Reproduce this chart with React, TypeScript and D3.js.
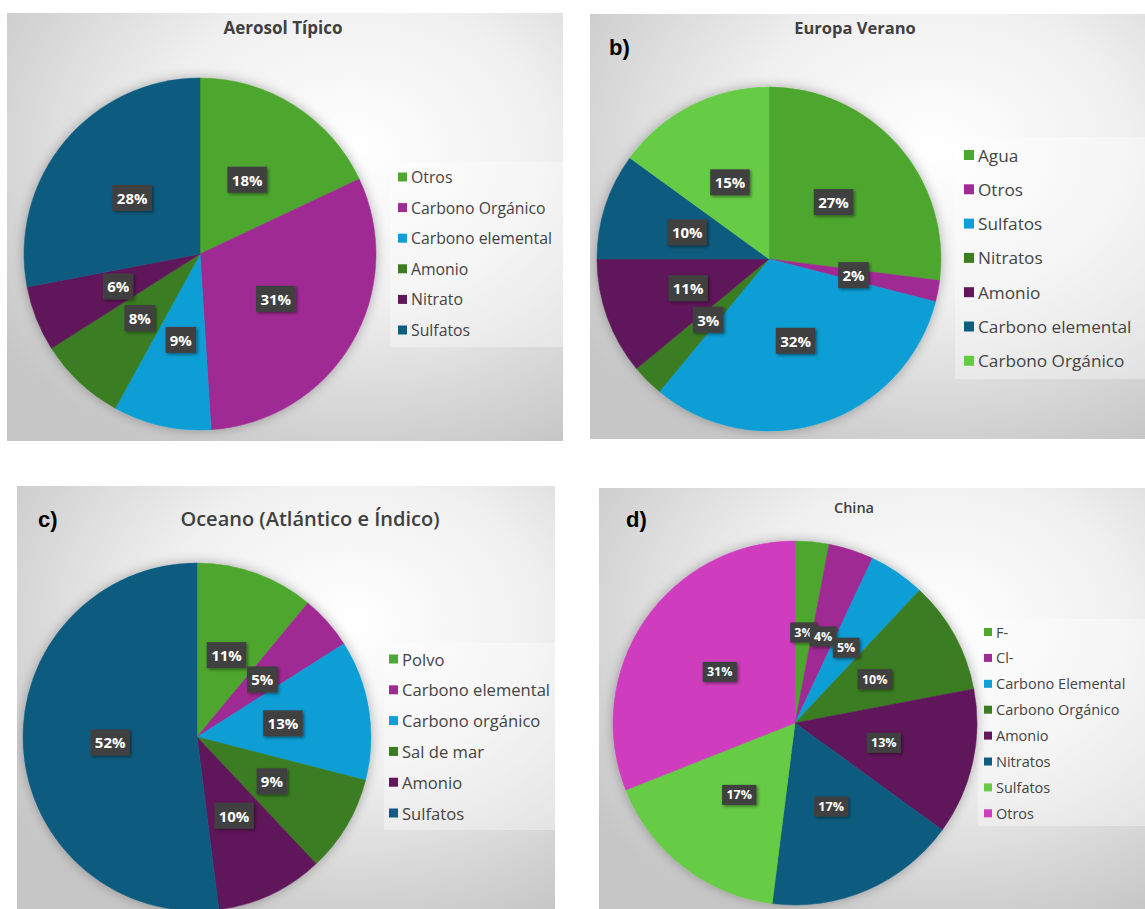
import React from 'react';
import * as d3 from 'd3';

// Shared slice palette (same order in every pie)
const sliceColors = ['#4ea72e', '#a02b93', '#0f9ed5', '#3b7d23', '#60185a', '#0e5c80', '#66cb44', '#cf3cbe'];

const aerosolCategories = ['Otros', 'Carbono Orgánico', 'Carbono elemental', 'Amonio', 'Nitrato', 'Sulfatos'];
const aerosolValues = [18, 31, 9, 8, 6, 28];

const europaCategories = ['Agua', 'Otros', 'Sulfatos', 'Nitratos', 'Amonio', 'Carbono elemental', 'Carbono Orgánico'];
const europaValues = [27, 2, 32, 3, 11, 10, 15];

const oceanoCategories = ['Polvo', 'Carbono elemental', 'Carbono orgánico', 'Sal de mar', 'Amonio', 'Sulfatos'];
const oceanoValues = [11, 5, 13, 9, 10, 52];

const chinaCategories = ['F-', 'Cl-', 'Carbono Elemental', 'Carbono Orgánico', 'Amonio', 'Nitratos', 'Sulfatos', 'Otros'];
const chinaValues = [3, 4, 5, 10, 13, 17, 17, 31];

const FONT = "'Open Sans', 'Noto Sans', sans-serif";

type PanelSpec = {
  id: string;
  title: string;
  tag?: string;
  categories: string[];
  values: number[];
  box: [number, number, number, number];
  titlePos: [number, number];
  titleSize: number;
  titleWeight: number;
  tagPos?: [number, number];
  pie: [number, number, number];
  labelSize: number;
  labelHeight: number;
  legendBox: [number, number, number, number];
  legendX: number;
  legendY: number;
  legendStep: number;
  legendSize: number;
  swatch: number;
};

const panels: PanelSpec[] = [
  {
    id: 'a', title: 'Aerosol Típico', categories: aerosolCategories, values: aerosolValues,
    box: [7, 13, 556, 428], titlePos: [283, 27], titleSize: 17, titleWeight: 700,
    pie: [200, 254, 176], labelSize: 15, labelHeight: 26,
    legendBox: [390, 162, 173, 185], legendX: 398, legendY: 177, legendStep: 30.6, legendSize: 15.8, swatch: 9,
  },
  {
    id: 'b', title: 'Europa Verano', tag: 'b)', categories: europaCategories, values: europaValues,
    box: [590, 14, 555, 425], titlePos: [855, 27], titleSize: 16.5, titleWeight: 700, tagPos: [609, 47],
    pie: [769, 259, 172], labelSize: 15, labelHeight: 26,
    legendBox: [955, 137, 190, 242], legendX: 964, legendY: 155, legendStep: 34.3, legendSize: 17.2, swatch: 10,
  },
  {
    id: 'c', title: 'Oceano (Atlántico e Índico)', tag: 'c)', categories: oceanoCategories, values: oceanoValues,
    box: [17, 486, 538, 423], titlePos: [310, 518], titleSize: 20, titleWeight: 600, tagPos: [38, 519],
    pie: [197, 737, 174], labelSize: 15, labelHeight: 26,
    legendBox: [384, 643, 171, 187], legendX: 389, legendY: 659, legendStep: 30.8, legendSize: 16.6, swatch: 9,
  },
  {
    id: 'd', title: 'China', tag: 'd)', categories: chinaCategories, values: chinaValues,
    box: [599, 488, 546, 421], titlePos: [854, 507], titleSize: 14.5, titleWeight: 600, tagPos: [626, 519],
    pie: [795, 723, 182], labelSize: 12.5, labelHeight: 20,
    legendBox: [978, 619, 167, 207], legendX: 984, legendY: 632, legendStep: 25.9, legendSize: 14.5, swatch: 8,
  },
];

function labelWidth(text: string, size: number) {
  let w = 0;
  for (const ch of text) w += ch === '%' ? 0.9 : 0.6;
  return w * size + 8;
}

function Panel({ p }: { p: PanelSpec }) {
  const [bx, by, bw, bh] = p.box;
  const [cx, cy, r] = p.pie;
  const pie = d3.pie<number>().sort(null).value((d) => d);
  const arcs = pie(p.values);
  const arc = d3.arc<d3.PieArcDatum<number>>().innerRadius(0).outerRadius(r);
  const color = d3.scaleOrdinal<number, string>().domain(d3.range(sliceColors.length)).range(sliceColors);
  const [lx, ly, lw, lh] = p.legendBox;

  return (
    <g>
      <defs>
        <clipPath id={`clip-${p.id}`}>
          <rect x={bx} y={by} width={bw} height={bh} />
        </clipPath>
        <radialGradient id={`bg-${p.id}`} cx="0.62" cy="0.32" r="0.78" fx="0.62" fy="0.32">
          <stop offset="0" stopColor="#ffffff" />
          <stop offset="0.45" stopColor="#f0f0f0" />
          <stop offset="1" stopColor="#c6c6c6" />
        </radialGradient>
      </defs>
      <g clipPath={`url(#clip-${p.id})`}>
        <rect x={bx} y={by} width={bw} height={bh} fill={`url(#bg-${p.id})`} />
        <rect x={lx} y={ly} width={lw} height={lh} fill="#ffffff" opacity={0.35} />
        <g transform={`translate(${cx},${cy})`} filter="url(#pieShadow)">
          {arcs.map((a, i) => (
            <path key={i} d={arc(a) || ''} fill={color(i)} stroke={color(i)} strokeWidth={0.5} />
          ))}
        </g>
        <g transform={`translate(${cx},${cy})`}>
          {arcs.map((a, i) => {
            const [x, y] = arc.centroid(a);
            const text = `${p.values[i]}%`;
            const w = labelWidth(text, p.labelSize);
            const h = p.labelHeight;
            return (
              <g key={i} transform={`translate(${x},${y})`}>
                <rect x={-w / 2} y={-h / 2} width={w} height={h} fill="#404040" filter="url(#labelShadow)" />
                <text
                  textAnchor="middle"
                  dominantBaseline="central"
                  fill="#ffffff"
                  fontFamily={FONT}
                  fontWeight={700}
                  fontSize={p.labelSize}
                >
                  {text}
                </text>
              </g>
            );
          })}
        </g>
        <g>
          {p.categories.map((c, i) => {
            const y = p.legendY + i * p.legendStep;
            return (
              <g key={c}>
                <rect x={p.legendX} y={y - p.swatch / 2} width={p.swatch} height={p.swatch} fill={color(i)} />
                <text
                  x={p.legendX + p.swatch + 4}
                  y={y}
                  dominantBaseline="central"
                  fill="#444444"
                  fontFamily={FONT}
                  fontSize={p.legendSize}
                >
                  {c}
                </text>
              </g>
            );
          })}
        </g>
        <text
          x={p.titlePos[0]}
          y={p.titlePos[1]}
          textAnchor="middle"
          dominantBaseline="central"
          fill="#404040"
          fontFamily={FONT}
          fontWeight={p.titleWeight}
          fontSize={p.titleSize}
        >
          {p.title}
        </text>
        {p.tag && p.tagPos && (
          <text
            x={p.tagPos[0]}
            y={p.tagPos[1]}
            dominantBaseline="central"
            fill="#000000"
            fontFamily="Arial, 'Liberation Sans', sans-serif"
            fontWeight={700}
            fontSize={22}
          >
            {p.tag}
          </text>
        )}
      </g>
    </g>
  );
}

export default function App() {
  return (
    <svg
      width={1145}
      height={909}
      viewBox="0 0 1145 909"
      style={{ position: 'absolute', left: 0, top: 0, background: '#ffffff' }}
    >
      <defs>
        <filter id="pieShadow" x="-20%" y="-20%" width="140%" height="140%">
          <feDropShadow dx="0" dy="0" stdDeviation="6" floodColor="#000000" floodOpacity="0.3" />
        </filter>
        <filter id="labelShadow" x="-30%" y="-30%" width="160%" height="160%">
          <feDropShadow dx="1.5" dy="1.5" stdDeviation="1.5" floodColor="#000000" floodOpacity="0.45" />
        </filter>
      </defs>
      {panels.map((p) => (
        <Panel key={p.id} p={p} />
      ))}
    </svg>
  );
}
